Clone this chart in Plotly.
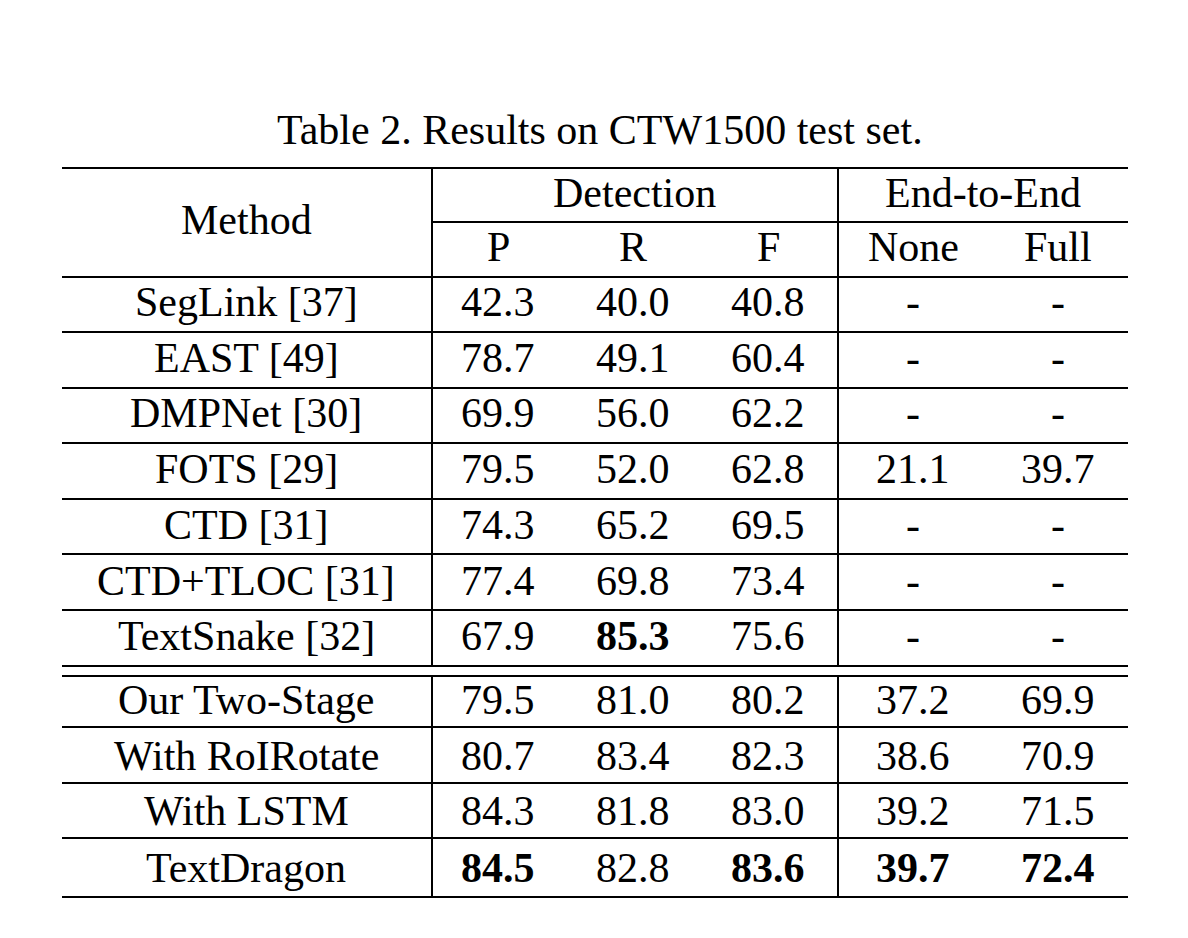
import plotly.graph_objects as go

title = "Table 2. Results on CTW1500 test set."
methods = ["SegLink [37]", "EAST [49]", "DMPNet [30]", "FOTS [29]", "CTD [31]", "CTD+TLOC [31]",
           "TextSnake [32]", "Our Two-Stage", "With RoIRotate", "With LSTM", "TextDragon"]
P = ["42.3", "78.7", "69.9", "79.5", "74.3", "77.4", "67.9", "79.5", "80.7", "84.3", "84.5"]
R = ["40.0", "49.1", "56.0", "52.0", "65.2", "69.8", "85.3", "81.0", "83.4", "81.8", "82.8"]
F = ["40.8", "60.4", "62.2", "62.8", "69.5", "73.4", "75.6", "80.2", "82.3", "83.0", "83.6"]
NONE = ["-", "-", "-", "21.1", "-", "-", "-", "37.2", "38.6", "39.2", "39.7"]
FULL = ["-", "-", "-", "39.7", "-", "-", "-", "69.9", "70.9", "71.5", "72.4"]
bold = {(6, 2), (10, 1), (10, 3), (10, 4), (10, 5)}  # (row, col)
sub_headers = ["P", "R", "F", "None", "Full"]

FONT = "Liberation Serif"
FS = 42
D = 8  # rendering offset correction
colx = [246, 498, 633, 768, 913, 1058]
rowy = [302, 358, 413, 469, 525, 581, 636, 700, 756, 811, 868]

fig = go.Figure()
ann = []
def txt(x, y, s, size=FS, b=False):
    ann.append(dict(x=x - D, y=y - D, xref="x", yref="y", text=f"<b>{s}</b>" if b else s,
                    showarrow=False, font=dict(family=FONT, size=size, color="black"),
                    xanchor="center", yanchor="middle"))

txt(600, 130, title, 42)
txt(246, 220, "Method")
txt(634, 193, "Detection")
txt(983, 193, "End-to-End")
for i, h in enumerate(sub_headers):
    txt(colx[i + 1], 247, h)
cols = [methods, P, R, F, NONE, FULL]
for r in range(len(methods)):
    for c in range(6):
        txt(colx[c], rowy[r], cols[c][r], b=(r, c) in bold)

shapes = []
def line(x0, y0, x1, y1, w=2):
    shapes.append(dict(type="line", x0=x0 - D, y0=y0 - D, x1=x1 - D, y1=y1 - D, xref="x", yref="y",
                       line=dict(color="black", width=w)))
L, Rt = 62, 1128
line(L, 168, Rt, 168)
line(432, 222, Rt, 222)
for y in [277, 332, 388, 443, 499, 554, 610, 666, 676, 727, 783, 838, 897]:
    line(L, y, Rt, y)
for x in [432, 838]:
    line(x, 168, x, 666)
    line(x, 676, x, 897)

fig.update_layout(width=1188, height=938, margin=dict(l=0, r=0, t=0, b=0),
                  paper_bgcolor="white", plot_bgcolor="white",
                  annotations=ann, shapes=shapes, showlegend=False,
                  xaxis=dict(range=[0, 1188], visible=False, fixedrange=True),
                  yaxis=dict(range=[938, 0], visible=False, fixedrange=True))
fig.write_html("out.html")
